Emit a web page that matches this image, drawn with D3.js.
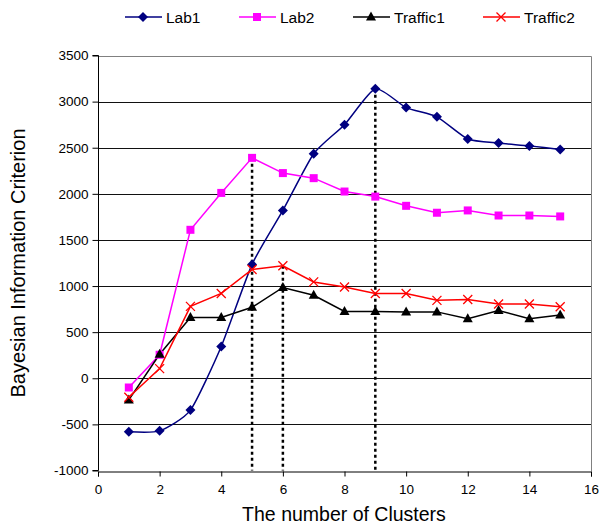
<!DOCTYPE html>
<html><head><meta charset="utf-8">
<script src="https://cdn.jsdelivr.net/npm/d3@7"></script>
<style>
html,body{margin:0;padding:0;background:#fff;}
text{font-family:"Liberation Sans",Arial,sans-serif;fill:#000;}
</style></head>
<body>
<svg id="chart" width="601" height="527"></svg>
<script>
const clusters = [1,2,3,4,5,6,7,8,9,10,11,12,13,14,15];
const lab1 = [-580,-570,-345,345,1235,1820,2435,2750,3140,2935,2835,2595,2550,2520,2480];
const lab2 = [-100,255,1610,2010,2390,2225,2170,2025,1970,1870,1795,1820,1765,1765,1755];
const traffic1 = [-235,260,660,660,770,985,900,725,725,720,720,645,735,645,685];
const traffic2 = [-205,105,780,920,1180,1220,1045,990,920,920,845,855,805,805,775];
const seriesNames = ["Lab1","Lab2","Traffic1","Traffic2"];
const peakX = [5,6,9];
const peakY = [2390,1220,3140];
const xTicks = [0,2,4,6,8,10,12,14,16];
const yTicks = [-1000,-500,0,500,1000,1500,2000,2500,3000,3500];

const svg = d3.select("#chart");
const x = d3.scaleLinear().domain([0,16]).range([98,591]);
const y = d3.scaleLinear().domain([-1000,3500]).range([470.5,55.5]);

// gridlines
svg.append("g").selectAll("line").data(yTicks.filter(v=>v>-1000 && v<3500)).join("line")
  .attr("x1",x(0)).attr("x2",x(16))
  .attr("y1",d=>Math.round(y(d))+0.5).attr("y2",d=>Math.round(y(d))+0.5)
  .attr("stroke","#111").attr("stroke-width",1);
// plot border top/right
svg.append("path")
  .attr("d",`M${x(0)},${Math.round(y(3500))+0.5}H${Math.round(x(16))+0.5}V${Math.round(y(-1000))}`)
  .attr("fill","none").attr("stroke","#808080").attr("stroke-width",1);

// axes
const fmt = d => String(d);
const xAxis = d3.axisBottom(x).tickValues(xTicks).tickSize(5).tickPadding(8).tickFormat(fmt);
const yAxis = d3.axisLeft(y).tickValues(yTicks).tickSize(6).tickPadding(4).tickFormat(fmt);
const gx = svg.append("g").attr("transform",`translate(0,${Math.round(y(-1000))+0.5})`).call(xAxis);
const gy = svg.append("g").attr("transform",`translate(${Math.round(x(0))+0.5},0)`).call(yAxis);
[gx,gy].forEach(g=>{
  g.select(".domain").attr("stroke","#000");
  g.selectAll(".tick line").attr("stroke","#000");
  g.selectAll("text").style("font-family","'Liberation Sans',Arial,sans-serif").style("font-size","13.5px").attr("fill","#000");
});
gy.select(".domain").attr("d",`M-6,${y(3500)}H0V${y(-1000)}H-6`);

// dashed peak lines
svg.append("g").selectAll("line").data(peakX).join("line")
  .attr("x1",d=>x(d)).attr("x2",d=>x(d))
  .attr("y1",(d,i)=>y(peakY[i])).attr("y2",y(-1000))
  .attr("stroke","#000").attr("stroke-width",2.5).attr("stroke-dasharray","3,3");

const data = [lab1,lab2,traffic1,traffic2];
const colors = ["#000080","#FF00FF","#000000","#FF0000"];
const symbols = ["diamond","square","triangle","cross"];

function marker(g, type, color){
  if(type==="diamond") g.append("path").attr("d","M0,-5L5,0L0,5L-5,0Z").attr("fill",color);
  else if(type==="square") g.append("rect").attr("x",-4).attr("y",-4).attr("width",8).attr("height",8).attr("fill",color);
  else if(type==="triangle") g.append("path").attr("d","M0,-5.5L5,3.5L-5,3.5Z").attr("fill",color);
  else g.append("path").attr("d","M-4.5,-4.5L4.5,4.5M-4.5,4.5L4.5,-4.5").attr("stroke",color).attr("stroke-width",1.3).attr("fill","none");
}

data.forEach((vals,si)=>{
  const pts = clusters.map((c,i)=>[x(c),y(vals[i])]);
  const line = d3.line().curve(si===0 ? d3.curveCardinal.tension(0.4) : d3.curveLinear);
  svg.append("path").attr("d",line(pts)).attr("fill","none")
    .attr("stroke",colors[si]).attr("stroke-width",1.5);
});
data.forEach((vals,si)=>{
  clusters.forEach((c,i)=>{
    const g = svg.append("g").attr("transform",`translate(${x(c)},${y(vals[i])})`);
    marker(g, symbols[si], colors[si]);
  });
});

// legend
const legX = [125,239,353,483];
seriesNames.forEach((n,i)=>{
  const g = svg.append("g").attr("transform",`translate(${legX[i]},17)`);
  g.append("line").attr("x1",0).attr("x2",37).attr("y1",0).attr("y2",0).attr("stroke",colors[i]).attr("stroke-width",1.5);
  const m = g.append("g").attr("transform","translate(18,0)");
  marker(m, symbols[i], colors[i]);
  g.append("text").attr("x",41).attr("y",5.5).style("font-size","15.5px").text(n);
});

// titles
svg.append("text").attr("x",344).attr("y",521).attr("text-anchor","middle").style("font-size","19.5px").text("The number of Clusters");
svg.append("text").attr("transform","translate(25,263) rotate(-90)").attr("text-anchor","middle").style("font-size","20px").text("Bayesian Information Criterion");
</script>
</body></html>
